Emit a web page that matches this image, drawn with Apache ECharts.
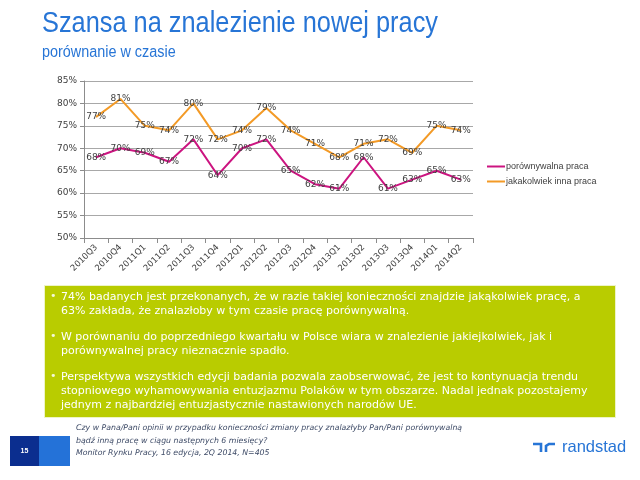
<!DOCTYPE html>
<html>
<head>
<meta charset="utf-8">
<script src="https://cdn.jsdelivr.net/npm/echarts@6/dist/echarts.min.js"></script>
<style>
html,body{margin:0;padding:0;background:#fff;}
#c{width:640px;height:480px;}
</style>
</head>
<body>
<div id="c"></div>
<script>
var categories = ['2010Q3','2010Q4','2011Q1','2011Q2','2011Q3','2011Q4','2012Q1','2012Q2','2012Q3','2012Q4','2013Q1','2013Q2','2013Q3','2013Q4','2014Q1','2014Q2'];
var porownywalna = [68,70,69,67,72,64,70,72,65,62,61,68,61,63,65,63];
var jakakolwiek = [77,81,75,74,80,72,74,79,74,71,68,71,72,69,75,74];
var seriesNames = ['porównywalna praca','jakakolwiek inna praca'];
var yMin = 50, yMax = 85, yStep = 5;
var titleText = 'Szansa na znalezienie nowej pracy';
var subtitleText = 'porównanie w czasie';
var bullets = [
  ['74% badanych jest przekonanych, że w razie takiej konieczności znajdzie jakąkolwiek pracę, a','63% zakłada, że znalazłoby w tym czasie pracę porównywalną.'],
  ['W porównaniu do poprzedniego kwartału w Polsce wiara w znalezienie jakiejkolwiek, jak i','porównywalnej pracy nieznacznie spadło.'],
  ['Perspektywa wszystkich edycji badania pozwala zaobserwować, że jest to kontynuacja trendu','stopniowego wyhamowywania entuzjazmu Polaków w tym obszarze. Nadal jednak pozostajemy','jednym z najbardziej entuzjastycznie nastawionych narodów UE.']
];
var footerLines = ['Czy w Pana/Pani opinii w przypadku konieczności zmiany pracy znalazłyby Pan/Pani porównywalną','bądź inną pracę w ciągu następnych 6 miesięcy?','Monitor Rynku Pracy, 16 edycja, 2Q 2014, N=405'];
var pageNumber = '15';
var brand = 'randstad';

var PINK = '#cc1480', ORANGE = '#f39a26', GREEN = '#b9cc00', BLUE = '#2775d6';

var chart = echarts.init(document.getElementById('c'), null, {renderer:'canvas'});

var graphics = [];
graphics.push({type:'text', left:42, top:9, scaleX:0.845, style:{text:titleText, font:'30px "Liberation Sans"', fill:BLUE}});
graphics.push({type:'text', left:42, top:45, scaleX:0.9, style:{text:subtitleText, font:'16px "Liberation Sans"', fill:BLUE}});
// green box
graphics.push({type:'rect', shape:{x:44, y:285, width:572, height:133}, style:{fill:'#eef4c6'}});
graphics.push({type:'rect', shape:{x:45, y:286, width:570, height:131}, style:{fill:GREEN}});
var bulletTops = [290, 330, 370];
bullets.forEach(function(lines, i){
  graphics.push({type:'text', x:50, y:bulletTops[i] + 1, style:{text:'•', font:'11px "DejaVu Sans"', fill:'#f4f8d8'}});
  graphics.push({type:'text', x:61, y:bulletTops[i], style:{text:lines.join('\n'), font:'11px "DejaVu Sans"', fill:'#fff', lineHeight:14}});
});
// footer
graphics.push({type:'rect', shape:{x:10, y:436, width:29, height:30}, style:{fill:'#0b2e8f'}});
graphics.push({type:'rect', shape:{x:39, y:436, width:31, height:30}, style:{fill:'#2472d8'}});
graphics.push({type:'text', x:24.5, y:451, style:{text:pageNumber, font:'bold 7px "Liberation Sans"', fill:'#fff', align:'center', verticalAlign:'middle'}});
graphics.push({type:'text', x:76, y:422, style:{text:footerLines.join('\n'), font:'italic 7.8px "DejaVu Sans"', fill:'#3d4a66', lineHeight:12.5}});
// logo
graphics.push({type:'polyline', shape:{points:[[533,444],[541,444],[541,452]]}, style:{stroke:BLUE, lineWidth:2.6, fill:null}});
graphics.push({type:'polyline', shape:{points:[[546,452],[546,446],[549,444],[555,444]]}, style:{stroke:BLUE, lineWidth:2.6, fill:null}});
graphics.push({type:'text', x:562, y:447, style:{text:brand, font:'16.5px "Liberation Sans"', fill:BLUE, verticalAlign:'middle'}});

function mkSeries(name, data, color){
  return {
    name:name, type:'line', data:data,
    symbol:'circle', symbolSize:1, showSymbol:true,
    lineStyle:{color:color, width:2},
    itemStyle:{color:color},
    label:{show:true, position:'inside', formatter:function(p){return p.value+'%';}, fontFamily:'DejaVu Sans', fontSize:9, color:'#404040'},
    emphasis:{disabled:true},
    animation:false
  };
}

chart.setOption({
  animation:false,
  backgroundColor:'#fff',
  grid:{left:84, right:167, top:81, bottom:242},
  legend:{
    orient:'vertical', left:487, top:162, padding:0, itemWidth:18, itemHeight:2, itemGap:6, icon:'rect',
    textStyle:{fontFamily:'Liberation Sans', fontSize:9, color:'#404040', padding:[0,0,0,-4]},
    data:seriesNames
  },
  xAxis:{
    type:'category', data:categories, boundaryGap:true,
    axisLine:{lineStyle:{color:'#8c8c8c'}},
    axisTick:{show:true, length:5, alignWithLabel:false, lineStyle:{color:'#8c8c8c'}},
    axisLabel:{rotate:45, fontFamily:'DejaVu Sans', fontSize:8.5, color:'#404040', margin:8, interval:0}
  },
  yAxis:{
    type:'value', min:yMin, max:yMax, interval:yStep,
    axisLine:{show:true, lineStyle:{color:'#8c8c8c'}},
    axisTick:{show:true, length:4, lineStyle:{color:'#8c8c8c'}},
    axisLabel:{formatter:'{value}%', fontFamily:'DejaVu Sans', fontSize:9, color:'#404040', margin:7},
    splitLine:{lineStyle:{color:'#a8a8a8', width:1}}
  },
  series:[mkSeries(seriesNames[0], porownywalna, PINK), mkSeries(seriesNames[1], jakakolwiek, ORANGE)],
  graphic:graphics
});
</script>
</body>
</html>
